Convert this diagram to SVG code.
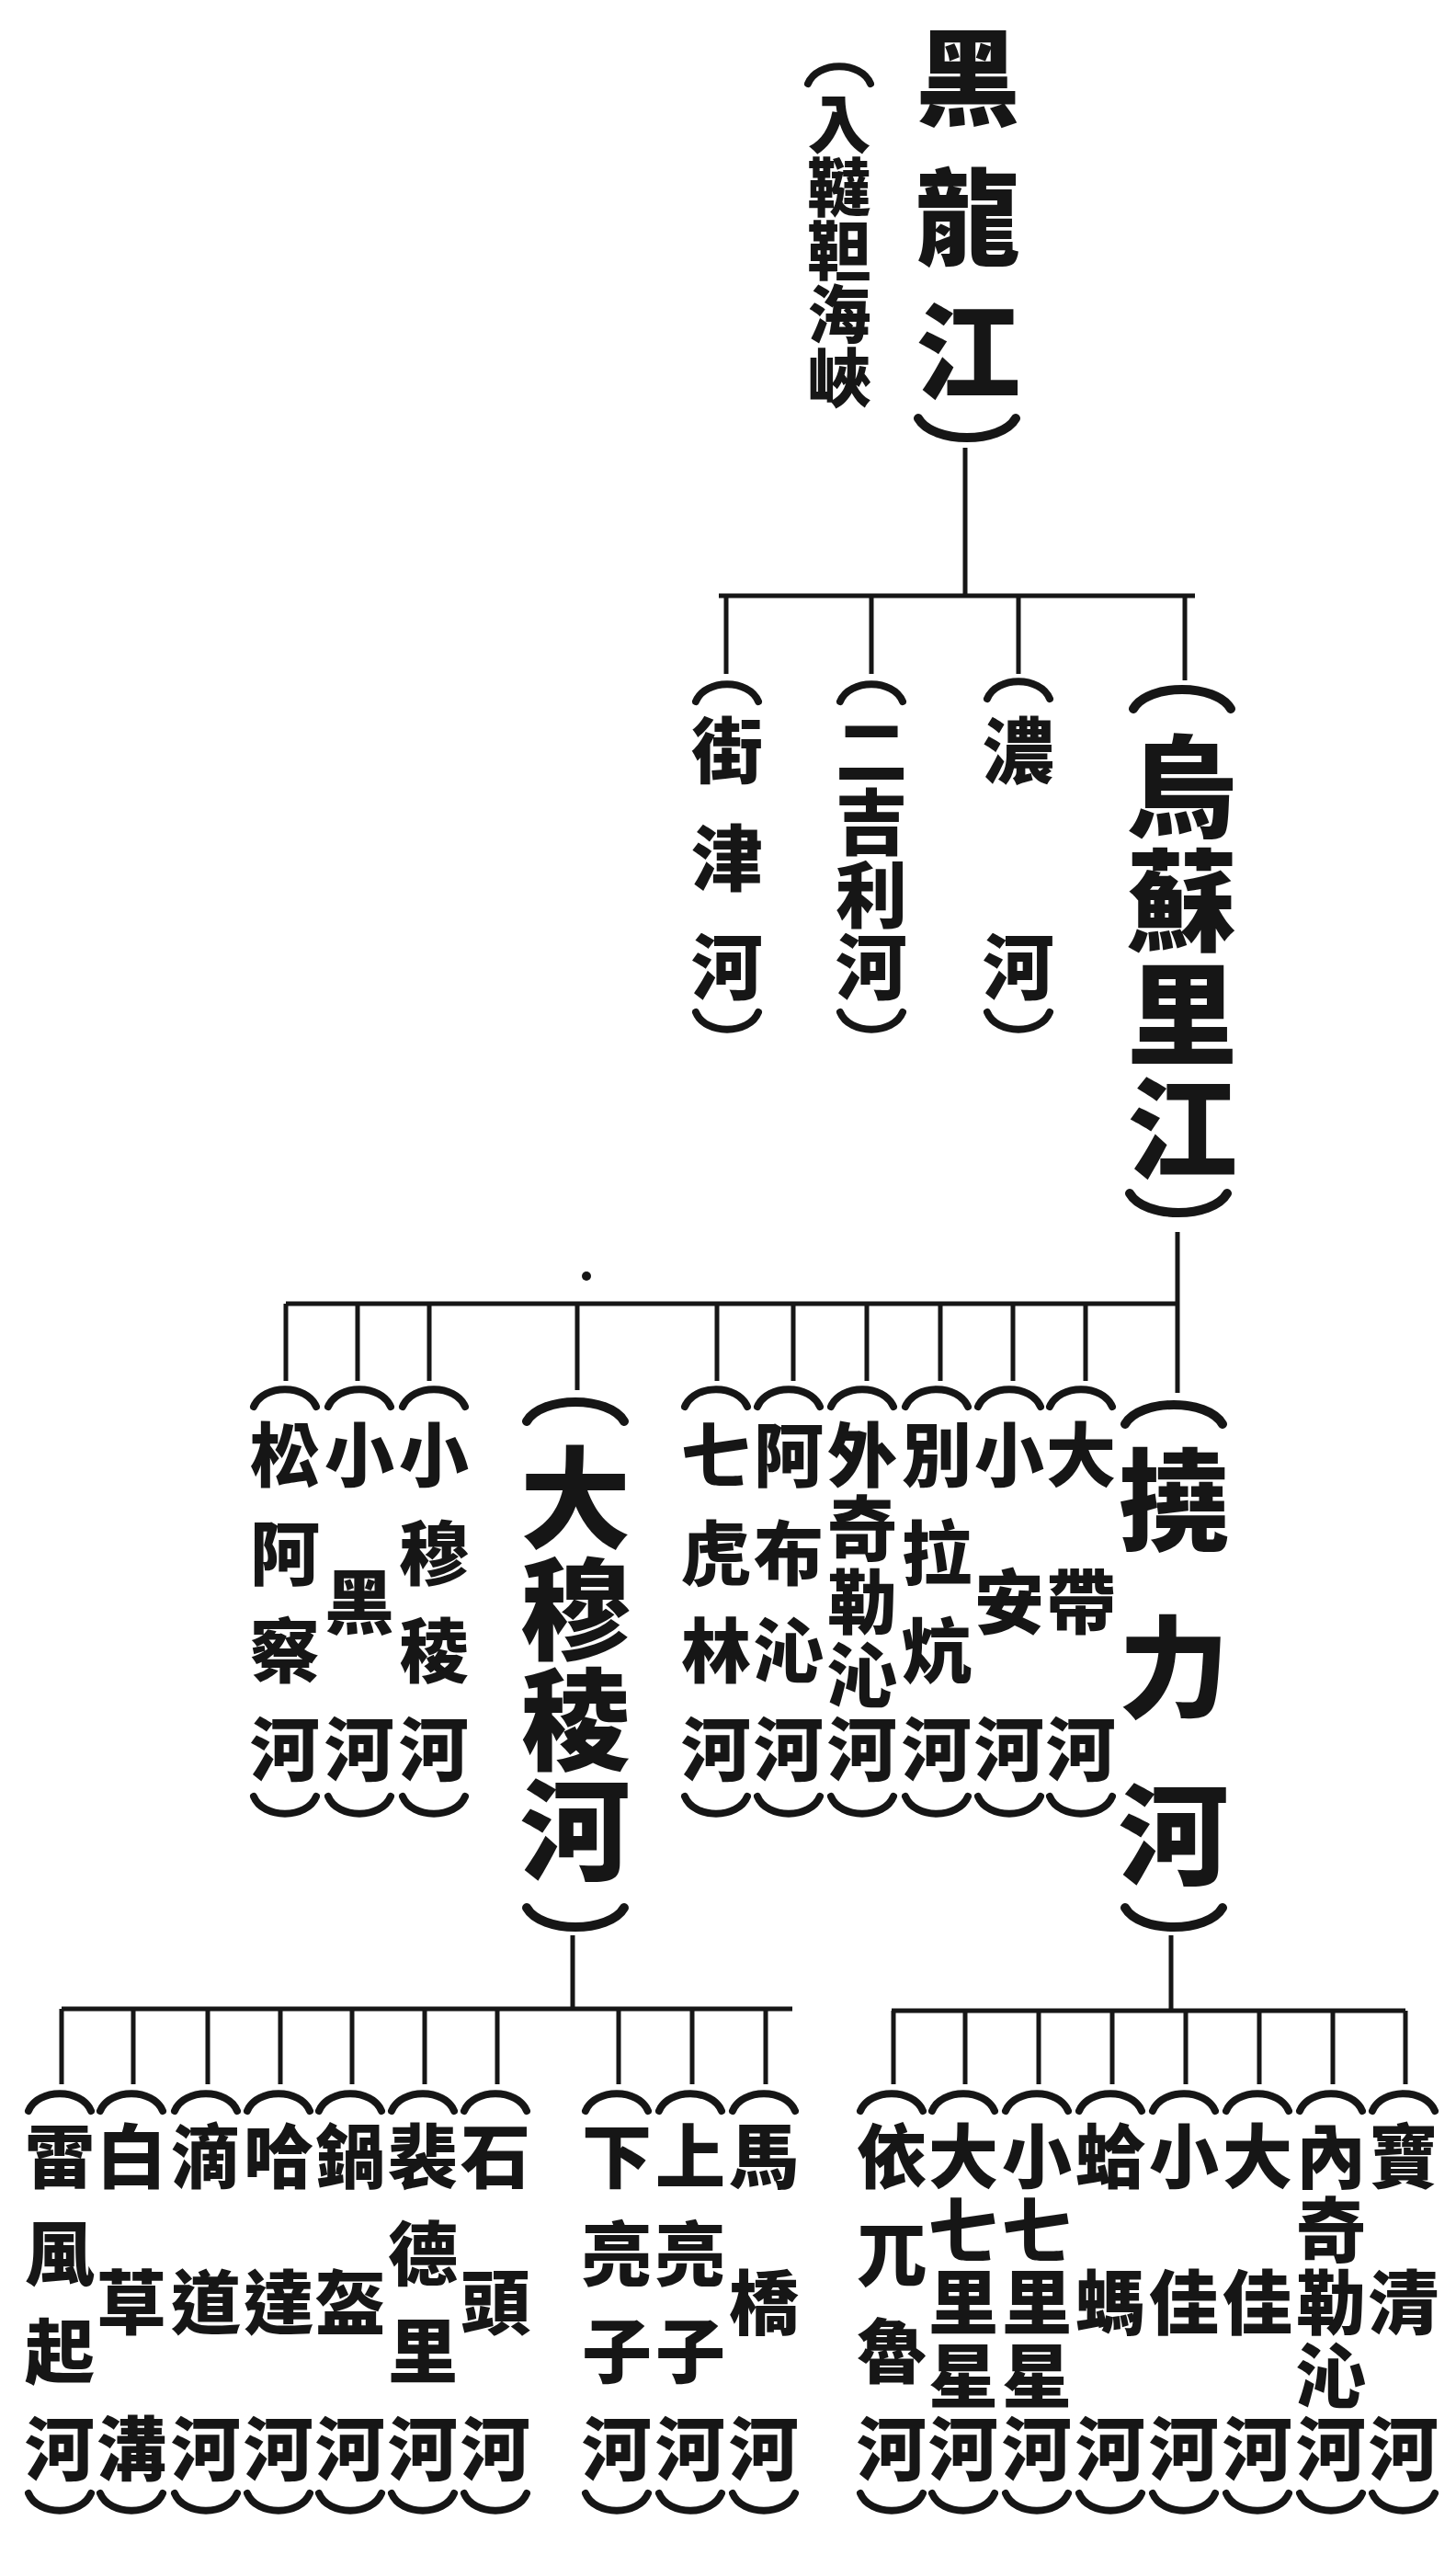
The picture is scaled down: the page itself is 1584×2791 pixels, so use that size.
<svg xmlns="http://www.w3.org/2000/svg" width="1584" height="2791" viewBox="0 0 1584 2791">
<style>
.ln{stroke:#161616;stroke-width:5;fill:none}
.br{stroke:#161616;stroke-width:8;fill:none;stroke-linecap:round}
.bl{stroke:#161616;stroke-width:10;fill:none;stroke-linecap:round}
text{font-family:"Noto Sans CJK TC","Noto Sans CJK SC","Noto Sans CJK JP",sans-serif;font-weight:900;fill:#161616;text-anchor:middle}
.s1{font-size:78px}
.s2{font-size:76px}
.L{font-size:120px}
.T{font-size:114px}
.sub{font-size:69px}
</style>
<defs>
<path id="os" d="M-34,23 C-24,-2 24,-2 34,23"/>
<path id="cs" d="M-34,4 C-24,29 24,29 34,4"/>
<path id="ol" d="M-53,26 C-37,-2 37,-2 53,26"/>
<path id="cl" d="M-53,5 C-37,33 37,33 53,5"/>
</defs>
<rect width="1584" height="2791" fill="#ffffff"/>

<g id="connectors">
<path class="ln" d="M1050,487 V648 M782,648 H1300 M790,648 V733 M948,648 V733 M1108,648 V733 M1289,648 V740"/>
<path class="ln" d="M1281,1340 V1515 M311,1418 H1281 M311,1418 V1502 M389,1418 V1502 M467,1418 V1502 M628,1418 V1512 M780,1418 V1502 M863,1418 V1502 M943,1418 V1502 M1023,1418 V1502 M1102,1418 V1502 M1181,1418 V1502"/>
<circle cx="638" cy="1388" r="5" fill="#161616"/>
<path class="ln" d="M623,2105 V2186 M67,2185 H862 M67,2185 V2267 M145,2185 V2267 M226,2185 V2267 M305,2185 V2267 M383,2185 V2267 M462,2185 V2267 M541,2185 V2267 M673,2185 V2267 M753,2185 V2267 M833,2185 V2267"/>
<path class="ln" d="M1274,2105 V2187 M970,2187 H1529 M972,2187 V2267 M1050,2187 V2267 M1130,2187 V2267 M1210,2187 V2267 M1290,2187 V2267 M1370,2187 V2267 M1450,2187 V2267 M1529,2187 V2267"/>
</g>

<g id="n-heilongjiang">
<text class="T"><tspan x="1053" y="127">黑</tspan><tspan x="1053" y="279">龍</tspan><tspan x="1053" y="425">江</tspan></text>
<g transform="translate(913,68)"><use href="#os" class="br"/></g>
<text class="sub"><tspan x="913" y="161">入</tspan><tspan x="913" y="230">韃</tspan><tspan x="913" y="299">靼</tspan><tspan x="913" y="368">海</tspan><tspan x="913" y="437">峽</tspan></text>
<g transform="translate(1052,450)"><use href="#cl" class="bl"/></g>
</g>

<g id="n-jiejin">
<g transform="translate(791,740)"><use href="#os" class="br"/></g>
<text class="s1"><tspan x="791" y="846">街</tspan><tspan x="791" y="963">津</tspan><tspan x="791" y="1081">河</tspan></text>
<g transform="translate(791,1097)"><use href="#cs" class="br"/></g>
</g>
<g id="n-erjili">
<g transform="translate(948,740)"><use href="#os" class="br"/></g>
<text class="s1"><tspan x="948" y="846">二</tspan><tspan x="948" y="924">吉</tspan><tspan x="948" y="1003">利</tspan><tspan x="948" y="1081">河</tspan></text>
<g transform="translate(948,1097)"><use href="#cs" class="br"/></g>
</g>
<g id="n-nong">
<g transform="translate(1108,737)"><use href="#os" class="br"/></g>
<text class="s1"><tspan x="1108" y="846">濃</tspan><tspan x="1108" y="1081">河</tspan></text>
<g transform="translate(1108,1097)"><use href="#cs" class="br"/></g>
</g>
<g id="n-wusuli">
<g transform="translate(1286,745)"><use href="#ol" class="bl"/></g>
<text class="L"><tspan x="1286" y="901">烏</tspan><tspan x="1286" y="1025">蘇</tspan><tspan x="1286" y="1149">里</tspan><tspan x="1286" y="1273">江</tspan></text>
<g transform="translate(1282,1293)"><use href="#cl" class="bl"/></g>
</g>

<g id="n-songacha">
<g transform="translate(310,1507)"><use href="#os" class="br"/></g>
<text class="s2"><tspan x="310" y="1611">松</tspan><tspan x="310" y="1718">阿</tspan><tspan x="310" y="1824">察</tspan><tspan x="310" y="1931">河</tspan></text>
<g transform="translate(310,1950)"><use href="#cs" class="br"/></g>
</g>
<g id="n-xiaohei">
<g transform="translate(391,1507)"><use href="#os" class="br"/></g>
<text class="s2"><tspan x="391" y="1611">小</tspan><tspan x="391" y="1771">黑</tspan><tspan x="391" y="1931">河</tspan></text>
<g transform="translate(391,1950)"><use href="#cs" class="br"/></g>
</g>
<g id="n-xiaomuling">
<g transform="translate(472,1507)"><use href="#os" class="br"/></g>
<text class="s2"><tspan x="472" y="1611">小</tspan><tspan x="472" y="1718">穆</tspan><tspan x="472" y="1824">稜</tspan><tspan x="472" y="1931">河</tspan></text>
<g transform="translate(472,1950)"><use href="#cs" class="br"/></g>
</g>
<g id="n-damuling">
<g transform="translate(626,1520)"><use href="#ol" class="bl"/></g>
<text class="L"><tspan x="626" y="1675">大</tspan><tspan x="626" y="1796">穆</tspan><tspan x="626" y="1916">稜</tspan><tspan x="626" y="2036">河</tspan></text>
<g transform="translate(626,2070)"><use href="#cl" class="bl"/></g>
</g>
<g id="n-qihulin">
<g transform="translate(779,1507)"><use href="#os" class="br"/></g>
<text class="s2"><tspan x="779" y="1611">七</tspan><tspan x="779" y="1718">虎</tspan><tspan x="779" y="1824">林</tspan><tspan x="779" y="1931">河</tspan></text>
<g transform="translate(779,1950)"><use href="#cs" class="br"/></g>
</g>
<g id="n-abuqin">
<g transform="translate(858,1507)"><use href="#os" class="br"/></g>
<text class="s2"><tspan x="858" y="1611">阿</tspan><tspan x="858" y="1718">布</tspan><tspan x="858" y="1824">沁</tspan><tspan x="858" y="1931">河</tspan></text>
<g transform="translate(858,1950)"><use href="#cs" class="br"/></g>
</g>
<g id="n-waiqileqin">
<g transform="translate(938,1507)"><use href="#os" class="br"/></g>
<text class="s2"><tspan x="938" y="1611">外</tspan><tspan x="938" y="1691">奇</tspan><tspan x="938" y="1771">勒</tspan><tspan x="938" y="1851">沁</tspan><tspan x="938" y="1931">河</tspan></text>
<g transform="translate(938,1950)"><use href="#cs" class="br"/></g>
</g>
<g id="n-bielakang">
<g transform="translate(1019,1507)"><use href="#os" class="br"/></g>
<text class="s2"><tspan x="1019" y="1611">別</tspan><tspan x="1019" y="1718">拉</tspan><tspan x="1019" y="1824">炕</tspan><tspan x="1019" y="1931">河</tspan></text>
<g transform="translate(1019,1950)"><use href="#cs" class="br"/></g>
</g>
<g id="n-xiaoan">
<g transform="translate(1098,1507)"><use href="#os" class="br"/></g>
<text class="s2"><tspan x="1098" y="1611">小</tspan><tspan x="1098" y="1771">安</tspan><tspan x="1098" y="1931">河</tspan></text>
<g transform="translate(1098,1950)"><use href="#cs" class="br"/></g>
</g>
<g id="n-dadai">
<g transform="translate(1176,1507)"><use href="#os" class="br"/></g>
<text class="s2"><tspan x="1176" y="1611">大</tspan><tspan x="1176" y="1771">帶</tspan><tspan x="1176" y="1931">河</tspan></text>
<g transform="translate(1176,1950)"><use href="#cs" class="br"/></g>
</g>
<g id="n-naoli">
<g transform="translate(1277,1523)"><use href="#ol" class="bl"/></g>
<text class="L"><tspan x="1277" y="1677">撓</tspan><tspan x="1277" y="1859">力</tspan><tspan x="1277" y="2041">河</tspan></text>
<g transform="translate(1277,2070)"><use href="#cl" class="bl"/></g>
</g>

<g id="n-leifengqi">
<g transform="translate(65,2273)"><use href="#os" class="br"/></g>
<text class="s2"><tspan x="65" y="2374">雷</tspan><tspan x="65" y="2480">風</tspan><tspan x="65" y="2586">起</tspan><tspan x="65" y="2692">河</tspan></text>
<g transform="translate(65,2708)"><use href="#cs" class="br"/></g>
</g>
<g id="n-baicaogou">
<g transform="translate(143,2273)"><use href="#os" class="br"/></g>
<text class="s2"><tspan x="143" y="2374">白</tspan><tspan x="143" y="2533">草</tspan><tspan x="143" y="2692">溝</tspan></text>
<g transform="translate(143,2708)"><use href="#cs" class="br"/></g>
</g>
<g id="n-didao">
<g transform="translate(224,2273)"><use href="#os" class="br"/></g>
<text class="s2"><tspan x="224" y="2374">滴</tspan><tspan x="224" y="2533">道</tspan><tspan x="224" y="2692">河</tspan></text>
<g transform="translate(224,2708)"><use href="#cs" class="br"/></g>
</g>
<g id="n-hada">
<g transform="translate(303,2273)"><use href="#os" class="br"/></g>
<text class="s2"><tspan x="303" y="2374">哈</tspan><tspan x="303" y="2533">達</tspan><tspan x="303" y="2692">河</tspan></text>
<g transform="translate(303,2708)"><use href="#cs" class="br"/></g>
</g>
<g id="n-guokui">
<g transform="translate(381,2273)"><use href="#os" class="br"/></g>
<text class="s2"><tspan x="381" y="2374">鍋</tspan><tspan x="381" y="2533">盔</tspan><tspan x="381" y="2692">河</tspan></text>
<g transform="translate(381,2708)"><use href="#cs" class="br"/></g>
</g>
<g id="n-peideli">
<g transform="translate(460,2273)"><use href="#os" class="br"/></g>
<text class="s2"><tspan x="460" y="2374">裴</tspan><tspan x="460" y="2480">德</tspan><tspan x="460" y="2586">里</tspan><tspan x="460" y="2692">河</tspan></text>
<g transform="translate(460,2708)"><use href="#cs" class="br"/></g>
</g>
<g id="n-shitou">
<g transform="translate(539,2273)"><use href="#os" class="br"/></g>
<text class="s2"><tspan x="539" y="2374">石</tspan><tspan x="539" y="2533">頭</tspan><tspan x="539" y="2692">河</tspan></text>
<g transform="translate(539,2708)"><use href="#cs" class="br"/></g>
</g>
<g id="n-xialiangzi">
<g transform="translate(671,2273)"><use href="#os" class="br"/></g>
<text class="s2"><tspan x="671" y="2374">下</tspan><tspan x="671" y="2480">亮</tspan><tspan x="671" y="2586">子</tspan><tspan x="671" y="2692">河</tspan></text>
<g transform="translate(671,2708)"><use href="#cs" class="br"/></g>
</g>
<g id="n-shangliangzi">
<g transform="translate(751,2273)"><use href="#os" class="br"/></g>
<text class="s2"><tspan x="751" y="2374">上</tspan><tspan x="751" y="2480">亮</tspan><tspan x="751" y="2586">子</tspan><tspan x="751" y="2692">河</tspan></text>
<g transform="translate(751,2708)"><use href="#cs" class="br"/></g>
</g>
<g id="n-maqiao">
<g transform="translate(831,2273)"><use href="#os" class="br"/></g>
<text class="s2"><tspan x="831" y="2374">馬</tspan><tspan x="831" y="2533">橋</tspan><tspan x="831" y="2692">河</tspan></text>
<g transform="translate(831,2708)"><use href="#cs" class="br"/></g>
</g>

<g id="n-yiwulu">
<g transform="translate(970,2273)"><use href="#os" class="br"/></g>
<text class="s2"><tspan x="970" y="2374">依</tspan><tspan x="970" y="2480">兀</tspan><tspan x="970" y="2586">魯</tspan><tspan x="970" y="2692">河</tspan></text>
<g transform="translate(970,2708)"><use href="#cs" class="br"/></g>
</g>
<g id="n-daqilixing">
<g transform="translate(1048,2273)"><use href="#os" class="br"/></g>
<text class="s2"><tspan x="1048" y="2374">大</tspan><tspan x="1048" y="2454">七</tspan><tspan x="1048" y="2533">里</tspan><tspan x="1048" y="2613">星</tspan><tspan x="1048" y="2692">河</tspan></text>
<g transform="translate(1048,2708)"><use href="#cs" class="br"/></g>
</g>
<g id="n-xiaoqilixing">
<g transform="translate(1128,2273)"><use href="#os" class="br"/></g>
<text class="s2"><tspan x="1128" y="2374">小</tspan><tspan x="1128" y="2454">七</tspan><tspan x="1128" y="2533">里</tspan><tspan x="1128" y="2613">星</tspan><tspan x="1128" y="2692">河</tspan></text>
<g transform="translate(1128,2708)"><use href="#cs" class="br"/></g>
</g>
<g id="n-hama">
<g transform="translate(1208,2273)"><use href="#os" class="br"/></g>
<text class="s2"><tspan x="1208" y="2374">蛤</tspan><tspan x="1208" y="2533">螞</tspan><tspan x="1208" y="2692">河</tspan></text>
<g transform="translate(1208,2708)"><use href="#cs" class="br"/></g>
</g>
<g id="n-xiaojia">
<g transform="translate(1288,2273)"><use href="#os" class="br"/></g>
<text class="s2"><tspan x="1288" y="2374">小</tspan><tspan x="1288" y="2533">佳</tspan><tspan x="1288" y="2692">河</tspan></text>
<g transform="translate(1288,2708)"><use href="#cs" class="br"/></g>
</g>
<g id="n-dajia">
<g transform="translate(1368,2273)"><use href="#os" class="br"/></g>
<text class="s2"><tspan x="1368" y="2374">大</tspan><tspan x="1368" y="2533">佳</tspan><tspan x="1368" y="2692">河</tspan></text>
<g transform="translate(1368,2708)"><use href="#cs" class="br"/></g>
</g>
<g id="n-neiqileqin">
<g transform="translate(1448,2273)"><use href="#os" class="br"/></g>
<text class="s2"><tspan x="1448" y="2374">內</tspan><tspan x="1448" y="2454">奇</tspan><tspan x="1448" y="2533">勒</tspan><tspan x="1448" y="2613">沁</tspan><tspan x="1448" y="2692">河</tspan></text>
<g transform="translate(1448,2708)"><use href="#cs" class="br"/></g>
</g>
<g id="n-baoqing">
<g transform="translate(1527,2273)"><use href="#os" class="br"/></g>
<text class="s2"><tspan x="1527" y="2374">寶</tspan><tspan x="1527" y="2533">清</tspan><tspan x="1527" y="2692">河</tspan></text>
<g transform="translate(1527,2708)"><use href="#cs" class="br"/></g>
</g>
</svg>
